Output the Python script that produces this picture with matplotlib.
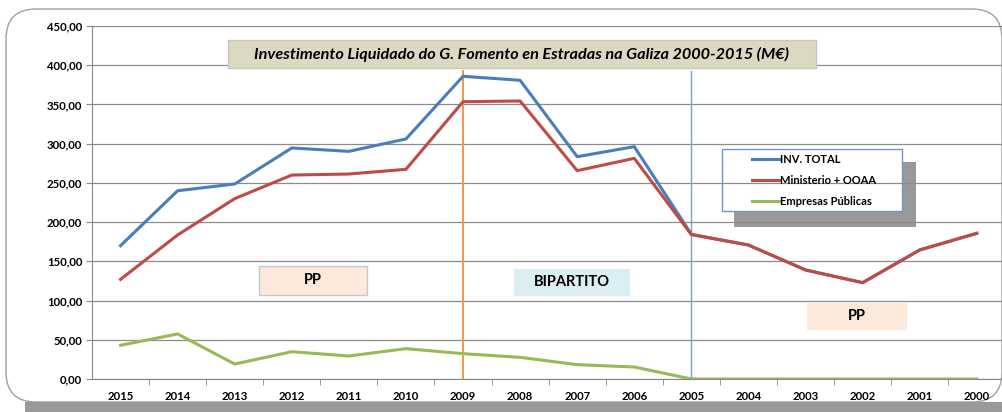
import matplotlib
matplotlib.use("Agg")
import matplotlib.pyplot as plt
from matplotlib.patches import Rectangle, FancyBboxPatch

plt.rcParams["font.family"] = ["Lato", "DejaVu Sans"]

years = ["2015", "2014", "2013", "2012", "2011", "2010", "2009", "2008",
         "2007", "2006", "2005", "2004", "2003", "2002", "2001", "2000"]
inv_total = [170, 240, 248.6, 294.5, 290.2, 306, 385.9, 380.8,
             283.4, 296.2, 184.5, 170.8, 139, 122.8, 164.5, 185.7]
ministerio = [127, 183.6, 229.9, 260, 261.3, 267.3, 353.5, 354.4,
              265.6, 281.3, 184, 170.8, 139, 122.8, 164.5, 185.7]
empresas = [43, 57.4, 19.1, 34.8, 29.3, 38.7, 32.3, 27.6,
            18.3, 15.3, 0, 0, 0, 0, 0, 0]
yticks = [0, 50, 100, 150, 200, 250, 300, 350, 400, 450]

W, H = 1003, 412
fig = plt.figure(figsize=(W / 100, H / 100), dpi=100)


def px(x, y, w, h):
    # pixel box (top-left origin) -> figure fraction
    return (x / W, 1 - (y + h) / H, w / W, h / H)


def fig_rect(box, fc, ec="none", lw=1, z=0):
    bx, by, bw, bh = px(*box)
    r = Rectangle((bx, by), bw, bh, transform=fig.transFigure,
                  facecolor=fc, edgecolor=ec, linewidth=lw, zorder=z)
    fig.patches.append(r)
    return bx, by, bw, bh


# outer frame + shadow
fig_rect((25, 402, 990, 12), "#999999", z=-2)
x0, y0, w0, h0 = px(6, 9, 996, 393)
fig.patches.append(FancyBboxPatch((x0, y0), w0, h0, transform=fig.transFigure,
                                  boxstyle="round,pad=0,rounding_size=0.03",
                                  mutation_aspect=W / H,
                                  facecolor="white", edgecolor="#a0a0a0",
                                  linewidth=1, zorder=-1))

# legend shadow + white legend box, both under the gridlines
fig_rect((734, 162, 182, 65), "#999999", z=-0.6)
fig_rect((722, 149, 180, 62), "white", ec="#6f96cc", lw=1, z=-0.5)

ax = fig.add_axes([92 / W, 33 / H, 913.3 / W, 353 / H])
ax.set_zorder(1)
ax.set_facecolor("none")
x = list(range(len(years)))

ax.plot(x, inv_total, color="#4a7ebb", linewidth=2.2, label="INV. TOTAL", zorder=3)
ax.plot(x, ministerio, color="#be4b48", linewidth=2.2, label="Ministerio + OOAA", zorder=4)
ax.plot(x, empresas, color="#98b954", linewidth=2.2, label="Empresas Públicas", zorder=4)

ax.axvline(years.index("2009"), ymin=0, ymax=392 / 450, color="#f79646",
           linewidth=1.4, zorder=2)
ax.axvline(years.index("2005"), ymin=0, ymax=392 / 450, color="#7a9fd6",
           linewidth=1.0, zorder=2)

ax.set_xlim(-0.5, len(years) - 0.5)
ax.set_ylim(0, 450)
ax.set_yticks(yticks)
ax.set_yticklabels([f"{v},00" for v in yticks])
ax.set_xticks(x)
ax.set_xticklabels(years)
ax.set_xticks([i + 0.5 for i in x[:-1]], minor=True)
ax.tick_params(axis="x", which="major", length=0, pad=9)
ax.tick_params(axis="x", which="minor", length=4, color="#888888")
ax.tick_params(axis="y", length=4, color="#888888", pad=3)
for lab in ax.get_xticklabels() + ax.get_yticklabels():
    lab.set_fontsize(8.2)
    lab.set_fontweight("bold")
ax.grid(axis="y", color="#8c8c8c", linewidth=0.9, zorder=1)
ax.set_axisbelow(True)
for s in ("top", "right"):
    ax.spines[s].set_visible(False)
for s in ("left", "bottom"):
    ax.spines[s].set_color("#888888")

leg = ax.legend(loc="upper left",
                bbox_to_anchor=((752 - 92) / 913.3, 1 - (154 - 26) / 353),
                frameon=False, fontsize=8, handlelength=2.4,
                handletextpad=0.15, borderpad=0, labelspacing=0.9,
                borderaxespad=0)
leg.set_zorder(6)
for t in leg.get_texts():
    t.set_fontweight("bold")


def label_box(box, text, fc, ec, size, style="normal"):
    bx, by, bw, bh = fig_rect(box, fc, ec=ec, z=5)
    fig.text(bx + bw / 2, by + bh / 2, text, ha="center", va="center",
             fontsize=size, fontweight="bold", style=style, zorder=6)


label_box((228, 40, 588, 28),
          "Investimento Liquidado do G. Fomento en Estradas na Galiza 2000-2015 (M€)",
          "#dcd9c3", "#c8c6b4", 11.7, style="italic")
label_box((259, 266, 108, 29), "PP", "#fce9dc", "#c8c8c8", 10.5)
label_box((514, 269, 116, 27), "BIPARTITO", "#dbeef3", "none", 10.5)
label_box((807, 303, 100, 27), "PP", "#fde9d9", "none", 10.5)

fig.savefig("out.png", dpi=100)
